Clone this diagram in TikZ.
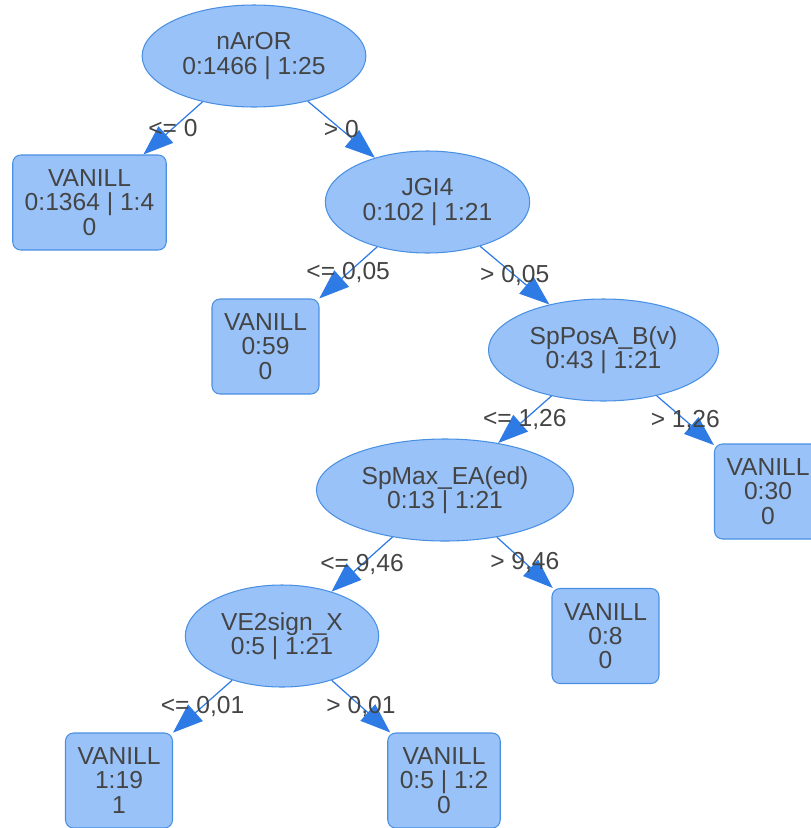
\documentclass[tikz,border=0pt]{standalone}
\usepackage{fontspec}
\setmainfont{Liberation Sans}
\usepackage{tikz}
\usetikzlibrary{arrows.meta, shapes.geometric}
\definecolor{tree-fill}{HTML}{99C2F9}
\definecolor{tree-line}{HTML}{4A90E2}
\definecolor{tree-edge}{HTML}{2F7BE6}
\definecolor{tree-text}{HTML}{444444}

\begin{document}
\begin{tikzpicture}[
    split/.style={ellipse, draw=tree-line, fill=tree-fill, text=tree-text, align=center, inner xsep=0.15cm, minimum height=2.04cm, line width=0.6pt},
    leaf/.style={rectangle, rounded corners=0.16cm, draw=tree-line, fill=tree-fill, text=tree-text, align=center, inner xsep=0.24cm, minimum height=1.9cm, line width=0.6pt},
    branch/.style={draw=tree-edge, line width=0.7pt, -{Triangle[length=0.6cm, width=0.44cm]}},
    cond/.style={text=tree-text},
    font=\fontsize{14}{13.8}\selectfont,
]
    \useasboundingbox (0, 0) rectangle (16.22, -16.56);
    \clip (0, 0) rectangle (16.22, -16.56);

    % Splits
    \node[split] (root) at (5.08, -1.12) {nArOR\\0:1466 | 1:25};
    \node[split] (jgi) at (8.55, -4.04) {JGI4\\0:102 | 1:21};
    \node[split] (sppos) at (12.07, -7.0) {SpPosA\_B(v)\\0:43 | 1:21};
    \node[split] (spmax) at (8.9, -9.8) {SpMax\_EA(ed)\\0:13 | 1:21};
    \node[split] (ve2) at (5.64, -12.72) {VE2sign\_X\\0:5 | 1:21};

    % Leaves
    \node[leaf] (leafA) at (1.79, -4.05) {VANILL\\0:1364 | 1:4\\0};
    \node[leaf] (leafB) at (5.31, -6.93) {VANILL\\0:59\\0};
    \node[leaf] (leafC) at (15.36, -9.83) {VANILL\\0:30\\0};
    \node[leaf] (leafD) at (12.11, -12.72) {VANILL\\0:8\\0};
    \node[leaf] (leafE) at (2.38, -15.61) {VANILL\\1:19\\1};
    \node[leaf] (leafF) at (8.88, -15.61) {VANILL\\0:5 | 1:2\\0};

    % Branches
    \draw[branch] (root) -- node[cond] {<= 0} (leafA);
    \draw[branch] (root) -- node[cond] {> 0} (jgi);
    \draw[branch] (jgi) -- node[cond] {<= 0,05} (leafB);
    \draw[branch] (jgi) -- node[cond] {> 0,05} (sppos);
    \draw[branch] (sppos) -- node[cond] {<= 1,26} (spmax);
    \draw[branch] (sppos) -- node[cond] {> 1,26} (leafC);
    \draw[branch] (spmax) -- node[cond] {<= 9,46} (ve2);
    \draw[branch] (spmax) -- node[cond] {> 9,46} (leafD);
    \draw[branch] (ve2) -- node[cond] {<= 0,01} (leafE);
    \draw[branch] (ve2) -- node[cond] {> 0,01} (leafF);
\end{tikzpicture}
\end{document}
